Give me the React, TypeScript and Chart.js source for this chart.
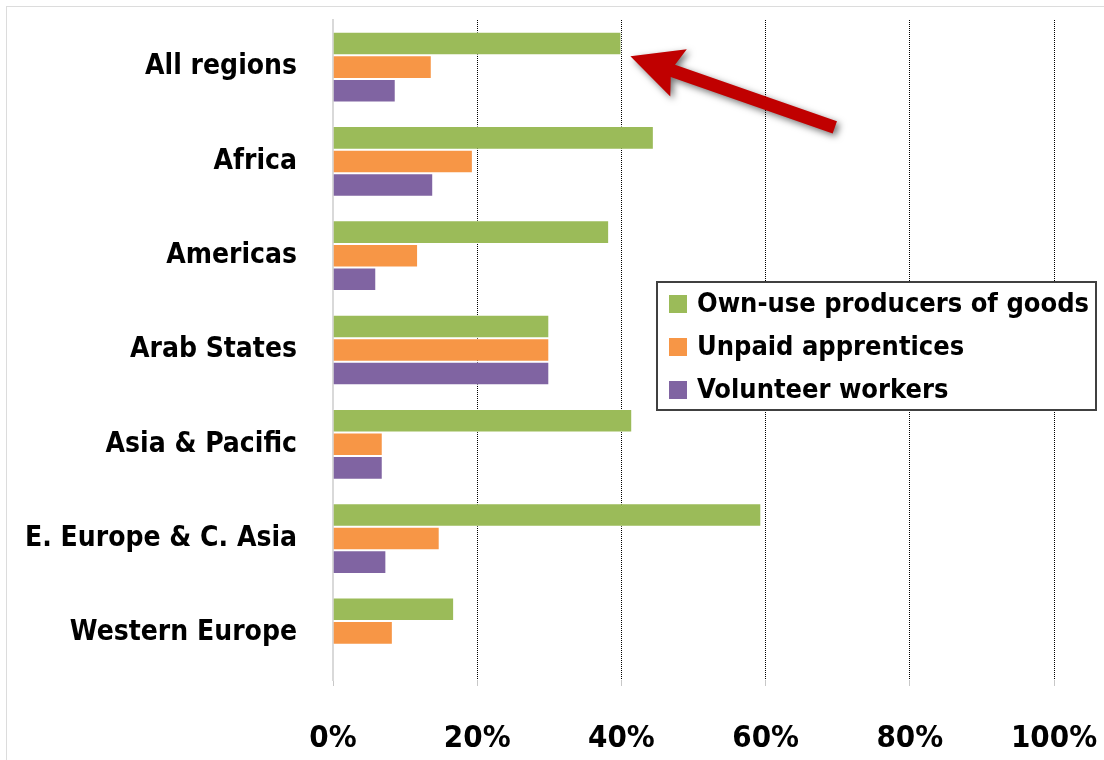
import React, { useEffect, useRef } from "react";
import { Chart, registerables } from "chart.js";
Chart.register(...registerables);

const categories = [
  "All regions",
  "Africa",
  "Americas",
  "Arab States",
  "Asia & Pacific",
  "E. Europe & C. Asia",
  "Western Europe",
];
const seriesNames = ["Own-use producers of goods", "Unpaid apprentices", "Volunteer workers"];
const ownUse = [40, 44.5, 38.3, 30, 41.5, 59.4, 16.8];
const apprentices = [13.7, 19.4, 11.8, 30, 6.9, 14.8, 8.3];
const volunteers = [8.7, 13.9, 6, 30, 6.9, 7.4, 0];
const xTicks = [0, 20, 40, 60, 80, 100];
const colors = ["#9BBB59", "#F79646", "#8064A2"];

const FONT = "'Liberation Sans Narrow', 'DejaVu Sans Condensed', Lato, sans-serif";

const overlayPlugin = {
  id: "overlay",
  afterDraw(chart: any) {
    const ctx = chart.ctx;
    const xs = chart.scales.x;
    const ys = chart.scales.y;
    // Arrow pointing at the "All regions" own-use bar
    const tipX = xs.getPixelForValue(ownUse[0]) + 9;
    const tipY = ys.getPixelForValue(0) - 11;
    const tailX = xs.getPixelForValue(69.6);
    const tailY = ys.getPixelForValue(0.64);
    const dx = tipX - tailX;
    const dy = tipY - tailY;
    const len = Math.hypot(dx, dy);
    const ux = dx / len, uy = dy / len;
    const nx = -uy, ny = ux;
    const headLen = 51, headW = 25, shaftW = 6.5;
    const bx = tipX - ux * headLen, by = tipY - uy * headLen;
    ctx.save();
    ctx.shadowColor = "rgba(0,0,0,0.55)";
    ctx.shadowBlur = 7;
    ctx.shadowOffsetX = 3;
    ctx.shadowOffsetY = 3;
    ctx.fillStyle = "#C00000";
    ctx.beginPath();
    ctx.moveTo(tipX, tipY);
    ctx.lineTo(bx + nx * headW, by + ny * headW);
    ctx.lineTo(bx + nx * shaftW + ux * 6, by + ny * shaftW + uy * 6);
    ctx.lineTo(tailX + nx * shaftW, tailY + ny * shaftW);
    ctx.lineTo(tailX - nx * shaftW, tailY - ny * shaftW);
    ctx.lineTo(bx - nx * shaftW + ux * 6, by - ny * shaftW + uy * 6);
    ctx.lineTo(bx - nx * headW, by - ny * headW);
    ctx.closePath();
    ctx.fill();
    ctx.restore();

    // Legend box
    ctx.save();
    const lx = 657, ly = 282, lw = 439, lh = 128;
    ctx.fillStyle = "#fff";
    ctx.fillRect(lx, ly, lw, lh);
    ctx.strokeStyle = "#404040";
    ctx.lineWidth = 2;
    ctx.strokeRect(lx, ly, lw, lh);
    ctx.font = `bold 27px ${FONT}`;
    ctx.textBaseline = "middle";
    ctx.textAlign = "left";
    seriesNames.forEach((name, i) => {
      const cy = 304 + i * 43;
      ctx.fillStyle = colors[i];
      ctx.fillRect(669, cy - 9, 18, 18);
      ctx.fillStyle = "#000";
      ctx.fillText(name, 697, cy + 1);
    });
    ctx.restore();
  },
};

export default function App() {
  const ref = useRef<HTMLCanvasElement>(null);
  useEffect(() => {
    const chart = new Chart(ref.current!, {
      type: "bar",
      data: {
        labels: categories,
        datasets: [ownUse, apprentices, volunteers].map((d, i) => ({
          label: seriesNames[i],
          data: d,
          backgroundColor: colors[i],
          borderColor: "rgba(255,255,255,0.55)",
          borderWidth: 1,
          barPercentage: 1,
          categoryPercentage: 0.75,
        })),
      },
      plugins: [overlayPlugin],
      options: {
        indexAxis: "y",
        responsive: false,
        animation: false,
        devicePixelRatio: 1,
        layout: { padding: { top: 20, right: 50, left: 0, bottom: 0 } },
        plugins: { legend: { display: false }, tooltip: { enabled: false } },
        scales: {
          x: {
            min: 0,
            max: 100,
            afterBuildTicks: (s: any) => {
              s.ticks = xTicks.map((v) => ({ value: v }));
            },
            afterFit: (s: any) => {
              s.height = 80;
              s.paddingLeft = 0;
              s.paddingRight = 0;
            },
            ticks: {
              callback: (v: any) => v + "%",
              color: "#000",
              font: { family: FONT, size: 31, weight: "bold" },
              padding: 34,
              maxRotation: 0,
            },
            grid: {
              color: (c: any) => (c.tick && c.tick.value === 0 ? "rgba(0,0,0,0)" : "#000"),
              borderDash: [1, 1],
              lineWidth: 1,
              tickLength: 6,
              tickColor: "#c8c8c8",
              tickBorderDash: [],
            },
            border: { display: false, dash: [1, 1] },
          },
          y: {
            afterFit: (s: any) => {
              s.width = 333;
              s.paddingTop = 0;
              s.paddingBottom = 0;
            },
            ticks: {
              color: "#000",
              font: { family: FONT, size: 28, weight: "bold" },
              padding: 36,
            },
            grid: { display: false, drawTicks: false },
            border: { color: "#d9d9d9", width: 2 },
          },
        },
      },
    } as any);
    return () => chart.destroy();
  }, []);
  return (
    <div style={{ position: "absolute", left: 0, top: 0, width: 1104, height: 760, background: "#fff" }}>
      <div
        style={{
          position: "absolute",
          left: 6,
          top: 6,
          width: 1098,
          height: 754,
          borderTop: "1px solid #dcdcdc",
          borderLeft: "1px solid #dcdcdc",
        }}
      />
      <canvas ref={ref} width={1104} height={760} style={{ position: "absolute", left: 0, top: 0 }} />
    </div>
  );
}
